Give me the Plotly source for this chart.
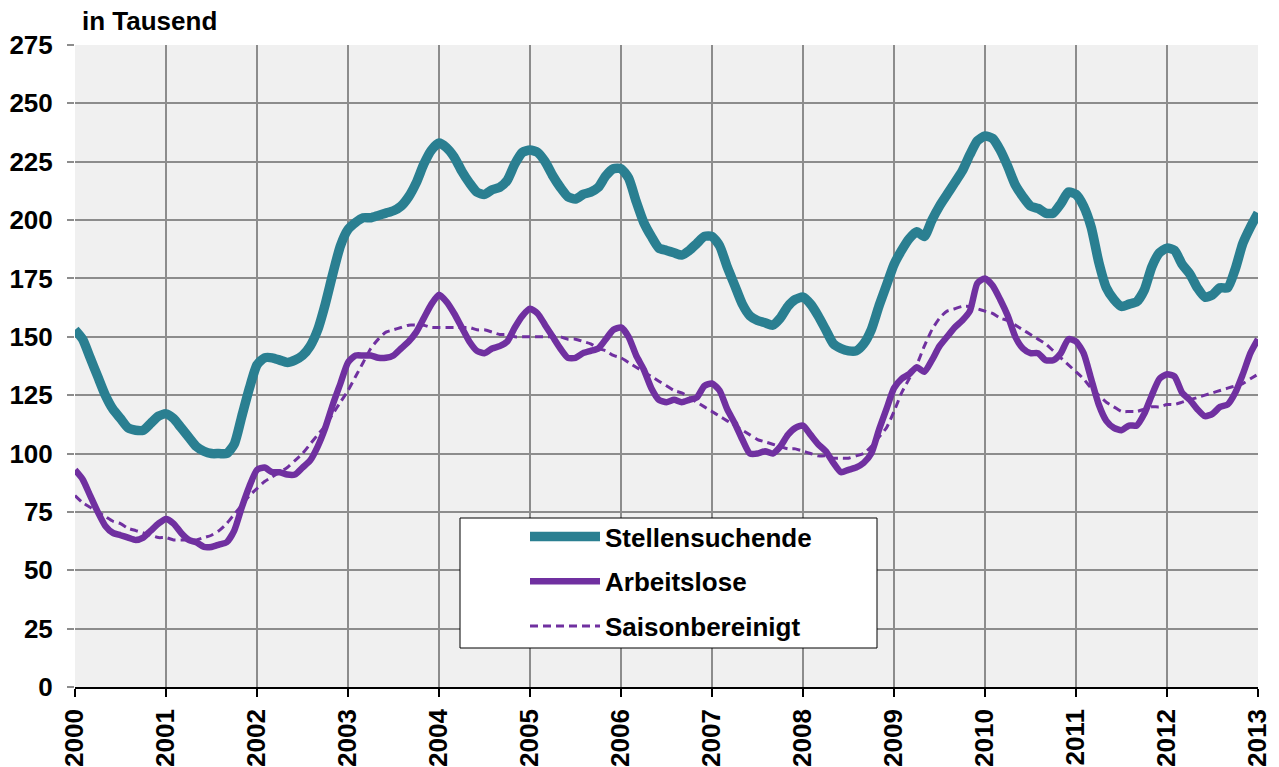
import plotly.graph_objects as go

# Monthly data, Jan 2000 .. Jan 2013 (157 months)
start_year = 2000
stellensuchende = [
    153, 149, 141, 133, 125, 119, 115, 111, 110, 110, 113, 116,
    117, 115, 111, 107, 103, 101, 100, 100, 100, 104, 116, 128,
    138, 141, 141, 140, 139, 140, 142, 146, 153, 164, 177, 189,
    196, 199, 201, 201, 202, 203, 204, 206, 210, 216, 224, 230,
    233, 231, 227, 221, 216, 212, 211, 213, 214, 217, 224, 229,
    230, 229, 225, 219, 214, 210, 209, 211, 212, 214, 219, 222,
    222, 218, 208, 199, 193, 188, 187, 186, 185, 187, 190, 193,
    193, 189, 180, 172, 164, 159, 157, 156, 155, 158, 163, 166,
    167, 164, 159, 153, 147, 145, 144, 144, 147, 153, 163, 172,
    181, 187, 192, 195, 193, 200, 206, 211, 216, 221, 228, 234,
    236, 235, 230, 223, 215, 210, 206, 205, 203, 203, 207, 212,
    211, 206, 197, 182, 171, 166, 163, 164, 165, 170, 180, 186,
    188, 187, 181, 177, 171, 167, 168, 171, 171, 179, 190, 197,
    203,
]
arbeitslose = [
    93, 89, 82, 75, 69, 66, 65, 64, 63, 64, 67, 70,
    72, 70, 66, 63, 62, 60, 60, 61, 62, 67, 77, 86,
    93, 94, 92, 92, 91, 91, 94, 97, 103, 111, 121, 130,
    139, 142, 142, 142, 141, 141, 142, 145, 148, 152, 158, 164,
    168, 165, 160, 154, 148, 144, 143, 145, 146, 148, 154, 159,
    162, 160, 155, 150, 145, 141, 141, 143, 144, 145, 149, 153,
    154, 150, 142, 136, 128, 123, 122, 123, 122, 123, 124, 129,
    130, 127, 119, 113, 106, 100, 100, 101, 100, 103, 108, 111,
    112, 108, 104, 101, 96, 92, 93, 94, 96, 100, 110, 119,
    128, 132, 134, 137, 135, 140, 146, 150, 154, 157, 161, 173,
    175, 172, 166, 159, 150, 145, 143, 143, 140, 140, 143, 149,
    148, 143, 132, 121, 114, 111, 110, 112, 112, 117, 125, 132,
    134, 133, 126, 123, 119, 116, 117, 120, 121, 126, 134, 143,
    149,
]
saisonbereinigt = [
    82, 79, 77, 75, 73, 71, 70, 68, 67, 66, 65, 64,
    64, 63, 63, 63, 63, 64, 65, 67, 70, 74, 78, 82,
    85, 88, 90, 92, 94, 97, 100, 104, 108, 112, 117, 122,
    127, 133, 139, 145, 149, 152, 153, 154, 155, 155, 155, 154,
    154, 154, 154, 154, 154, 153, 153, 152, 151, 151, 150, 150,
    150, 150, 150, 150, 150, 149, 149, 148, 147, 145, 144, 142,
    141, 139, 137, 135, 133, 131, 129, 127, 126, 124, 122, 120,
    118, 116, 114, 112, 110, 108, 106, 105, 104, 103, 102, 102,
    101, 100, 99, 99, 98, 98, 98, 99, 100, 103, 107, 111,
    118, 126, 132, 138, 146, 153, 158, 161, 162, 163, 163, 162,
    161, 160, 158, 157, 155, 153, 151, 149, 147, 144, 141, 138,
    135, 132, 128, 125, 122, 120, 118, 118, 118, 119, 120, 120,
    121, 121, 122, 123, 124, 125, 126, 127, 128, 129, 130, 132,
    134,
]
year_ticks = list(range(2000, 2014))
year_labels = [str(y) for y in year_ticks]
y_ticks = list(range(0, 276, 25))

x = [start_year + m / 12 for m in range(len(stellensuchende))]

TEAL = "#2a7f91"
PURPLE = "#7030a0"
FONT = "Liberation Sans, Arial, sans-serif"
FS = 26

fig = go.Figure()
fig.add_trace(go.Scatter(
    x=x, y=saisonbereinigt, mode="lines", name="<b>Saisonbereinigt</b>",
    line=dict(color=PURPLE, width=3, dash="8px,5px", shape="spline", smoothing=0.6),
    legendgroup="c", legendrank=3,
))
fig.add_trace(go.Scatter(
    x=x, y=arbeitslose, mode="lines", name="<b>Arbeitslose</b>",
    line=dict(color=PURPLE, width=6.5, shape="spline", smoothing=0.6),
    legendgroup="b", legendrank=2,
))
fig.add_trace(go.Scatter(
    x=x, y=stellensuchende, mode="lines", name="<b>Stellensuchende</b>",
    line=dict(color=TEAL, width=9.5, shape="spline", smoothing=0.6),
    legendgroup="a", legendrank=1,
))

L, R, T, B = 75, 21, 45, 80
W, H = 1279, 767
pw, ph = W - L - R, H - T - B

def px_x(p):
    return (p - L) / pw

def px_y(p):
    return (H - B - p) / ph

fig.add_shape(type="rect", xref="paper", yref="paper",
              x0=px_x(460), x1=px_x(877), y0=px_y(648), y1=px_y(518),
              fillcolor="white", line=dict(color="black", width=1), layer="above")

fig.add_annotation(text="<b>in Tausend</b>", xref="paper", yref="paper",
                   x=px_x(80), y=px_y(21), xanchor="left", yanchor="middle",
                   showarrow=False, font=dict(family=FONT, size=FS, color="black"))

fig.update_layout(
    width=W, height=H,
    margin=dict(l=L, r=R, t=T, b=B, autoexpand=False),
    paper_bgcolor="white",
    plot_bgcolor="#f0f0f0",
    font=dict(family=FONT, size=FS, color="black"),
    showlegend=True,
    legend=dict(
        x=px_x(525), y=px_y(513), xanchor="left", yanchor="top",
        bgcolor="rgba(0,0,0,0)", borderwidth=0,
        font=dict(family=FONT, size=FS, color="black"),
        itemwidth=70, tracegroupgap=8, traceorder="grouped",
    ),
    xaxis=dict(
        range=[2000, 2013], tickmode="array", tickvals=year_ticks,
        ticktext=["<b>%s</b>" % t for t in year_labels], tickangle=-90,
        showgrid=True, gridcolor="#8c8c8c", gridwidth=1.5,
        showline=True, linecolor="black", linewidth=1.5,
        ticks="outside", ticklen=8, tickcolor="black", tickwidth=1.5,
        zeroline=False, automargin=False, ticklabelstandoff=2,
        tickfont=dict(family=FONT, size=FS, color="black"),
    ),
    yaxis=dict(
        range=[0, 275], tickmode="array", tickvals=y_ticks,
        ticktext=["<b>%d</b>" % v for v in y_ticks],
        showgrid=True, gridcolor="#8c8c8c", gridwidth=1.5,
        showline=False, zeroline=False, automargin=False,
        ticks="outside", ticklen=7, tickcolor="#8c8c8c", tickwidth=1.5,
        ticklabelstandoff=9,
        tickfont=dict(family=FONT, size=FS, color="black"),
    ),
)

fig.write_html("out.html", config={"displayModeBar": False},
               post_script="document.body.style.margin='0';document.body.style.overflow='hidden';")
